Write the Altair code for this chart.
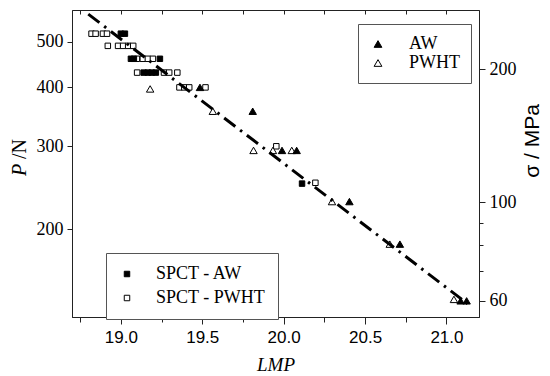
import altair as alt
import pandas as pd

# ---------------- data ----------------
# SPCT - AW (filled squares)
spct_aw_lmp = [19.0, 19.025, 19.062, 19.08, 19.24, 19.14, 19.166, 19.19, 19.215, 20.113]
spct_aw_p = [520, 520, 460, 460, 460, 430, 430, 430, 430, 250]

# SPCT - PWHT (open squares)
spct_pwht_lmp = [18.82, 18.845, 18.89, 18.915,
                 18.92, 18.983, 19.014, 19.045, 19.076,
                 19.099, 19.135, 19.166, 19.197,
                 19.10, 19.265, 19.297, 19.347,
                 19.36, 19.39, 19.42, 19.52,
                 19.955, 20.195]
spct_pwht_p = [520, 520, 520, 520,
               490, 490, 490, 490, 490,
               460, 460, 460, 460,
               430, 430, 430, 430,
               400, 400, 400, 400,
               300, 251]

# AW (filled triangles)
aw_lmp = [19.486, 19.81, 19.99, 20.08, 20.404, 20.714, 21.087, 21.124]
aw_p = [400, 356, 294, 294, 229, 186, 141, 141]

# PWHT (open triangles)
pwht_lmp = [19.18, 19.565, 19.815, 19.934, 20.05, 20.297, 20.652, 21.046]
pwht_p = [397, 356, 294, 294, 294, 229, 186, 142]

# fitted dash-dot line (end points)
fit_lmp = [18.80, 21.13]
fit_p = [572, 139]

# axis ticks
x_ticks = [18.75, 19.0, 19.25, 19.5, 19.75, 20.0, 20.25, 20.5, 20.75, 21.0]
p_ticks = [200, 300, 400, 500]
sigma_ticks = [60, 70, 80, 90, 100, 200]
sigma_range = [60, 200]
sigma_lmp = [19.0, 21.0]

sq_names = ["SPCT - AW", "SPCT - PWHT"]
tri_names = ["AW", "PWHT"]

# ---------------- tables ----------------
sq_df = pd.DataFrame({
    "lmp": spct_pwht_lmp + spct_aw_lmp,
    "p": spct_pwht_p + spct_aw_p,
    "series": [sq_names[1]] * len(spct_pwht_lmp) + [sq_names[0]] * len(spct_aw_lmp),
})
tri_df = pd.DataFrame({
    "lmp": pwht_lmp + aw_lmp,
    "p": pwht_p + aw_p,
    "series": [tri_names[1]] * len(pwht_lmp) + [tri_names[0]] * len(aw_lmp),
})
line_df = pd.DataFrame({"lmp": fit_lmp, "p": fit_p})
sig_df = pd.DataFrame({"lmp": sigma_lmp, "sigma": sigma_range})
one = pd.DataFrame({"k": [0]})

INK = "#222222"
SERIF = "Liberation Serif"
SANS = "Liberation Sans"

x_scale = alt.Scale(domain=[18.7, 21.2], nice=False, zero=False)
p_scale = alt.Scale(type="log", domain=[130.3, 583.8], nice=False)
s_scale = alt.Scale(type="log", domain=[55.14, 271.9], nice=False)

x_axis = alt.Axis(
    orient="bottom", values=x_ticks, grid=False,
    labelExpr="datum.value % 0.5 === 0 ? format(datum.value, '.1f') : ''",
    tickSize={"condition": {"test": "datum.value % 0.5 === 0", "value": 7}, "value": 5},
    labelFont=SANS, labelFontSize=17, labelPadding=5, labelFlush=False, labelOverlap=False,
    title="LMP", titleFont=SERIF, titleFontStyle="italic", titleFontWeight="normal",
    titleFontSize=19, titlePadding=10, titleColor="black",
)
p_axis = alt.Axis(
    orient="left", values=p_ticks, format="d", grid=False, title=None,
    tickSize=5, labelPadding=4, labelFont=SERIF, labelFontSize=18, labelOverlap=False,
)
top_axis = alt.Axis(
    orient="top", values=x_ticks, labels=False, domain=False, grid=False,
    tickSize=4, offset=-4, title=None,
)
sigma_axis = alt.Axis(
    orient="right", values=sigma_ticks, grid=False, title=None,
    labelExpr="(datum.value == 60 || datum.value == 100 || datum.value == 200) ? format(datum.value, 'd') : ''",
    tickSize={"condition": {"test": "datum.value == 60 || datum.value == 100 || datum.value == 200", "value": 6}, "value": 4},
    labelPadding=4, labelFont=SERIF, labelFontSize=18, labelOverlap=False,
)

squares = alt.Chart(sq_df).mark_point(
    shape="square", size=30, filled=True, stroke="black", strokeWidth=1, opacity=1
).encode(
    x=alt.X("lmp:Q", scale=x_scale, axis=x_axis),
    y=alt.Y("p:Q", scale=p_scale, axis=p_axis),
    fill=alt.Fill("series:N",
                  scale=alt.Scale(domain=sq_names, range=["black", "white"]),
                  legend=alt.Legend(
                      orient="none", legendX=34, legendY=243, title=None,
                      symbolType="square", symbolSize=30, symbolStrokeColor="black",
                      symbolStrokeWidth=1, labelFont=SERIF, labelFontSize=18,
                      labelColor="black", strokeColor="#555555", fillColor="white",
                      padding=12, rowPadding=6, symbolOffset=0, labelOffset=20,
                      labelExpr="datum.label + '\u00a0\u00a0\u00a0\u00a0'",
                  )),
)

triangles = alt.Chart(tri_df).mark_point(
    shape="triangle-up", size=55, filled=True, stroke="black", strokeWidth=1, opacity=1
).encode(
    x=alt.X("lmp:Q", scale=x_scale),
    y=alt.Y("p:Q", scale=p_scale),
    fill=alt.Fill("series:N",
                  scale=alt.Scale(domain=tri_names, range=["black", "white"]),
                  legend=alt.Legend(
                      orient="none", legendX=286, legendY=14, title=None,
                      symbolType="triangle-up", symbolSize=60, symbolStrokeColor="black",
                      symbolStrokeWidth=1, labelFont=SERIF, labelFontSize=18,
                      labelColor="black", strokeColor="#555555", fillColor="white",
                      padding=11, rowPadding=1, symbolOffset=0, labelOffset=22,
                      labelExpr="datum.label + '\u00a0\u00a0'",
                  )),
)

line = alt.Chart(line_df).mark_line(
    color="black", strokeWidth=3, strokeDash=[14, 6, 2.5, 6], strokeCap="butt"
).encode(
    x=alt.X("lmp:Q", scale=x_scale),
    y=alt.Y("p:Q", scale=p_scale),
)

inner = alt.layer(squares, triangles, line).resolve_scale(fill="independent")

sigma_layer = alt.Chart(sig_df).mark_point(opacity=0).encode(
    x=alt.X("lmp:Q", scale=x_scale, axis=top_axis),
    y=alt.Y("sigma:Q", scale=s_scale, axis=sigma_axis),
)

title_P = alt.Chart(one).mark_text(
    text="P", font=SERIF, fontStyle="italic", fontSize=20, angle=270,
    align="center", baseline="middle", color="black",
).encode(x=alt.value(-52), y=alt.value(160))
title_N = alt.Chart(one).mark_text(
    text="/N", font=SERIF, fontSize=20, angle=270,
    align="center", baseline="middle", color="black",
).encode(x=alt.value(-52), y=alt.value(139))
title_sigma = alt.Chart(one).mark_text(
    text="σ / MPa", font=SANS, fontSize=21, angle=270,
    align="center", baseline="middle", color="black",
).encode(x=alt.value(461), y=alt.value(131))

chart = alt.layer(inner, sigma_layer, title_P, title_N, title_sigma).resolve_scale(
    y="independent"
).resolve_axis(
    x="independent", y="independent"
).properties(
    width=407, height=307,
    autosize=alt.AutoSizeParams(type="none"),
    padding={"left": 64, "top": 2, "right": 63, "bottom": 59},
    background="white",
).configure_view(
    stroke=INK, strokeWidth=1
).configure_axis(
    domainColor=INK, tickColor=INK, labelColor="black", domainWidth=1, tickWidth=1
)

chart.save("out.html", embed_options={"renderer": "svg", "actions": False})
